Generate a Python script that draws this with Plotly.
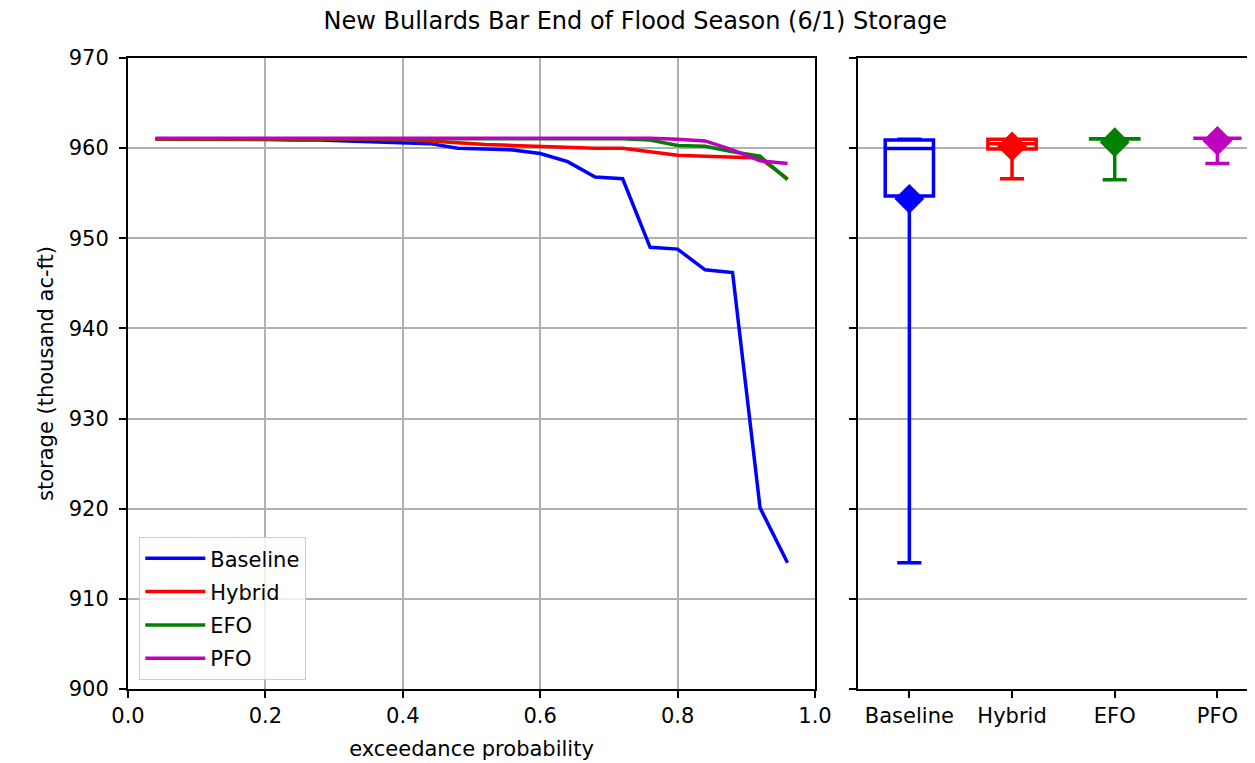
import numpy as np
import plotly.graph_objects as go
from plotly.subplots import make_subplots

title = "New Bullards Bar End of Flood Season (6/1) Storage"
scenarios = ["Baseline", "Hybrid", "EFO", "PFO"]
colors = ["#0000ff", "#ff0000", "#008000", "#bf00bf"]

# exceedance probabilities (24 ensemble members, i/25)
prob = [0.04, 0.08, 0.12, 0.16, 0.20, 0.24, 0.28, 0.32, 0.36, 0.40, 0.44, 0.48,
        0.52, 0.56, 0.60, 0.64, 0.68, 0.72, 0.76, 0.80, 0.84, 0.88, 0.92, 0.96]

# storage (thousand ac-ft), sorted descending
baseline = [961.0, 961.0, 961.0, 961.0, 960.95, 960.9, 960.9, 960.8, 960.7, 960.6, 960.5, 960.0,
            959.9, 959.8, 959.4, 958.5, 956.8, 956.6, 949.0, 948.8, 946.5, 946.2, 920.1, 914.0]
hybrid = [961.0, 961.0, 961.0, 961.0, 961.0, 961.0, 961.0, 961.0, 961.0, 960.9, 960.8, 960.6,
          960.4, 960.3, 960.2, 960.1, 960.0, 960.0, 959.6, 959.2, 959.1, 959.0, 958.9, 956.6]
efo = [961.05, 961.05, 961.05, 961.05, 961.05, 961.05, 961.05, 961.05, 961.05, 961.05, 961.05, 961.05,
       961.05, 961.05, 961.05, 961.05, 961.05, 961.05, 960.9, 960.3, 960.2, 959.6, 959.1, 956.5]
pfo = [961.1, 961.1, 961.1, 961.1, 961.1, 961.1, 961.1, 961.1, 961.1, 961.1, 961.1, 961.1,
       961.1, 961.1, 961.1, 961.1, 961.1, 961.1, 961.1, 961.0, 960.8, 959.8, 958.6, 958.3]
series = [baseline, hybrid, efo, pfo]

y_ticks = [900, 910, 920, 930, 940, 950, 960, 970]
x_ticks = [0.0, 0.2, 0.4, 0.6, 0.8, 1.0]

# page has an 8px body margin, so the figure is sized to fit the window
W, H = 1247, 755
L, R, T, B = 120, 0, 50, 74
pw = W - L - R
split1 = (807 - L) / pw
split2 = (850 - L) / pw

FONT = "DejaVu Sans"
FS = 21

fig = make_subplots(rows=1, cols=2, shared_yaxes=False)

for name, col, ys in zip(scenarios, colors, series):
    fig.add_trace(go.Scatter(x=prob, y=ys, mode="lines", name=name, legendgroup=name,
                             line=dict(color=col, width=3.5)), row=1, col=1)

for name, col, ys in zip(scenarios, colors, series):
    arr = np.array(ys)
    q1, med, q3 = np.percentile(arr, [25, 50, 75])
    fig.add_trace(go.Box(x=[name], q1=[q1], median=[med], q3=[q3],
                         lowerfence=[arr.min()], upperfence=[arr.max()],
                         name=name, showlegend=False, width=0.47, whiskerwidth=0.5,
                         line=dict(color=col, width=3.5), fillcolor="rgba(0,0,0,0)",
                         boxpoints=False, hoverinfo="skip"), row=1, col=2)
    fig.add_trace(go.Scatter(x=[name], y=[arr.mean()], mode="markers", showlegend=False,
                             marker=dict(symbol="diamond", size=23, color=col,
                                         line=dict(width=0))), row=1, col=2)

axis_common = dict(showline=True, linecolor="black", linewidth=2, mirror=True,
                   ticks="outside", ticklen=7, tickwidth=2, tickcolor="black",
                   tickfont=dict(family=FONT, size=FS, color="black"))

fig.update_xaxes(domain=[0, split1], range=[0, 1], tickvals=x_ticks,
                 ticktext=[f"{v:.1f}" for v in x_ticks],
                 showgrid=True, gridcolor="#b0b0b0", gridwidth=2, zeroline=False,
                 title=dict(text="exceedance probability", font=dict(family=FONT, size=FS, color="black"),
                            standoff=14),
                 row=1, col=1, **axis_common)
fig.update_yaxes(range=[900, 970], tickvals=y_ticks, showgrid=True, gridcolor="#b0b0b0",
                 gridwidth=2, zeroline=False, ticklabelstandoff=6,
                 title=dict(text="storage (thousand ac-ft)", font=dict(family=FONT, size=FS, color="black"),
                            standoff=9),
                 row=1, col=1, **axis_common)
fig.update_xaxes(domain=[split2, 1], type="category", categoryorder="array",
                 categoryarray=scenarios, range=[-0.5, 3.366], showgrid=False,
                 row=1, col=2, **axis_common)
fig.update_yaxes(range=[900, 970], tickvals=y_ticks, showticklabels=False, showgrid=True,
                 gridcolor="#b0b0b0", gridwidth=2, zeroline=False,
                 row=1, col=2, **axis_common)

fig.update_layout(
    width=W, height=H,
    margin=dict(l=L, r=R, t=T, b=B, autoexpand=False),
    paper_bgcolor="white", plot_bgcolor="white",
    boxmode="overlay",
    title=dict(text=title, x=0.503, xanchor="center", y=1 - 13 / H, yanchor="middle",
               font=dict(family=FONT, size=24, color="black")),
    legend=dict(x=0.01, y=0.014, xanchor="left", yanchor="bottom",
                bgcolor="rgba(255,255,255,0.8)", bordercolor="#cccccc", borderwidth=1,
                font=dict(family=FONT, size=FS, color="black"),
                traceorder="grouped", tracegroupgap=3, itemwidth=60),
    font=dict(family=FONT, size=FS, color="black"),
)

fig.write_html("out.html")
